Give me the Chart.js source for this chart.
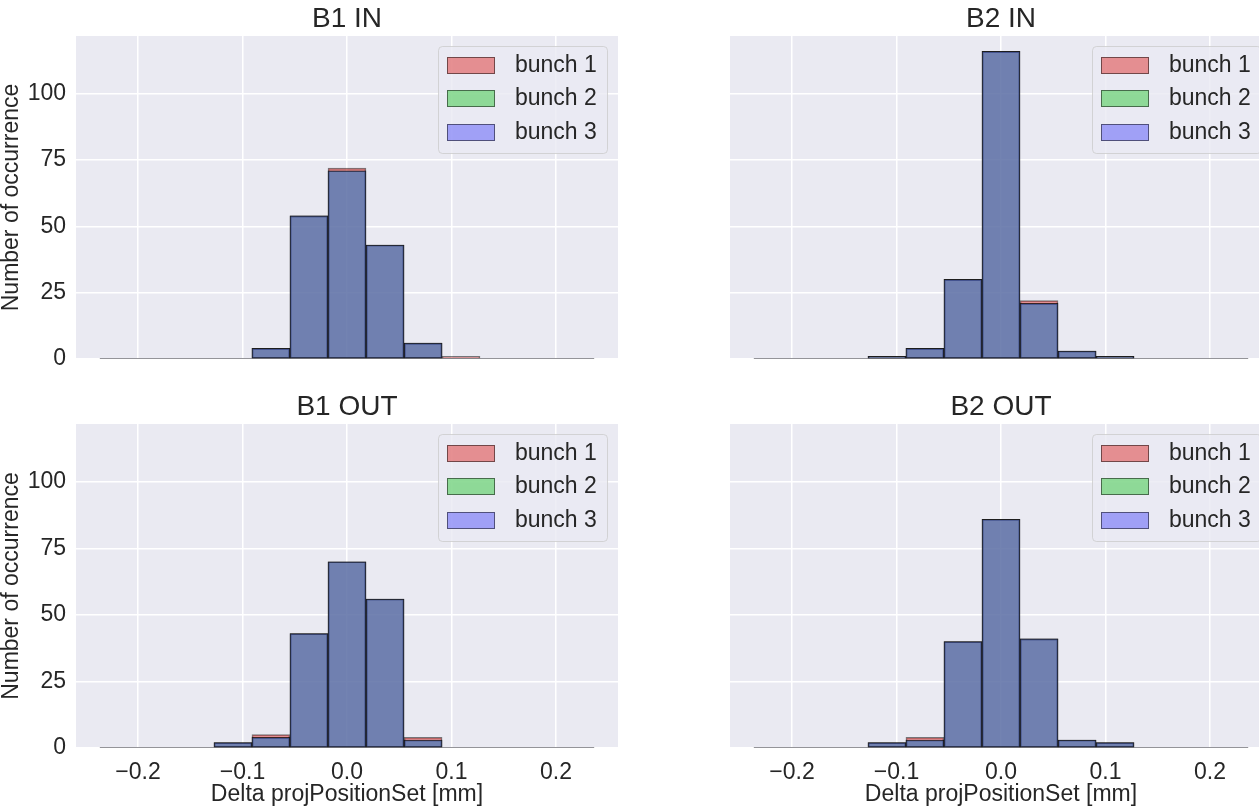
<!DOCTYPE html>
<html>
<head>
<meta charset="utf-8">
<script src="https://cdn.jsdelivr.net/npm/chart.js@4.4.1/dist/chart.umd.min.js"></script>
<style>
  html, body { margin: 0; padding: 0; background: #fff; overflow: hidden; }
  canvas { position: absolute; }
</style>
</head>
<body>
<canvas id="b1in" width="640" height="384" style="left:0;top:0"></canvas>
<canvas id="b2in" width="640" height="384" style="left:654px;top:0"></canvas>
<canvas id="b1out" width="640" height="421" style="left:0;top:388px"></canvas>
<canvas id="b2out" width="640" height="421" style="left:654px;top:388px"></canvas>
<script>
// histogram bins (centres) and axis ticks
const binCenters = [-0.2183, -0.1819, -0.1455, -0.1091, -0.0728, -0.0364, 0, 0.0364, 0.0728, 0.1091, 0.1455, 0.1819, 0.2183];
const binWidth = 0.0364;
const xTicks = [-0.2, -0.1, 0, 0.1, 0.2];
const yTicks = [0, 25, 50, 75, 100];
const bunchLabels = ['bunch 1', 'bunch 2', 'bunch 3'];

// counts per bin, one array per bunch
const b1In1 = [0, 0, 0, 0, 4, 54, 72, 43, 6, 1, 0, 0, 0];
const b1In2 = [0, 0, 0, 0, 4, 54, 71, 43, 6, 0, 0, 0, 0];
const b1In3 = [0, 0, 0, 0, 4, 54, 71, 43, 6, 0, 0, 0, 0];

const b2In1 = [0, 0, 0, 1, 4, 30, 116, 22, 3, 1, 0, 0, 0];
const b2In2 = [0, 0, 0, 1, 4, 30, 116, 21, 3, 1, 0, 0, 0];
const b2In3 = [0, 0, 0, 1, 4, 30, 116, 21, 3, 1, 0, 0, 0];

const b1Out1 = [0, 0, 0, 2, 5, 43, 70, 56, 4, 0, 0, 0, 0];
const b1Out2 = [0, 0, 0, 2, 4, 43, 70, 56, 3, 0, 0, 0, 0];
const b1Out3 = [0, 0, 0, 2, 4, 43, 70, 56, 3, 0, 0, 0, 0];

const b2Out1 = [0, 0, 0, 2, 4, 40, 86, 41, 3, 2, 0, 0, 0];
const b2Out2 = [0, 0, 0, 2, 3, 40, 86, 41, 3, 2, 0, 0, 0];
const b2Out3 = [0, 0, 0, 2, 3, 40, 86, 41, 3, 2, 0, 0, 0];

const bunchColors = ['rgba(222,50,48,0.5)', 'rgba(50,200,60,0.5)', 'rgba(85,85,250,0.5)'];
const edgeColor = 'rgba(0,0,0,0.5)';
const textColor = '#262626';

Chart.defaults.font.family = "Arial, 'Liberation Sans', sans-serif";
Chart.defaults.color = textColor;

// grey panel background
const panelBg = {
  id: 'panelBg',
  beforeDraw(chart) {
    const {ctx, chartArea: a} = chart;
    ctx.save();
    ctx.fillStyle = '#eaeaf2';
    ctx.fillRect(a.left, a.top, a.right - a.left, a.bottom - a.top);
    ctx.restore();
  }
};

// legend box in the upper right corner of the panel
const boxLegend = {
  id: 'boxLegend',
  afterDatasetsDraw(chart) {
    const {ctx, chartArea: a} = chart;
    const items = chart.data.datasets.filter(d => d.type === 'bar');
    const w = 169, h = 107;
    const x0 = Math.round(a.right - 11 - w), y0 = Math.round(a.top + 10);
    ctx.save();
    ctx.beginPath();
    ctx.roundRect(x0 + 0.5, y0 + 0.5, w, h, 4);
    ctx.fillStyle = 'rgba(234,234,242,0.8)';
    ctx.fill();
    ctx.strokeStyle = 'rgba(204,204,204,0.8)';
    ctx.lineWidth = 1;
    ctx.stroke();
    ctx.font = "23px Arial, 'Liberation Sans', sans-serif";
    ctx.textBaseline = 'middle';
    items.forEach((d, i) => {
      const cy = Math.round(y0 + 19 + i * 33.3);
      ctx.fillStyle = d.backgroundColor;
      ctx.fillRect(x0 + 9, cy - 8, 48, 17);
      ctx.strokeStyle = d.borderColor;
      ctx.strokeRect(x0 + 9.5, cy - 7.5, 47, 16);
      ctx.fillStyle = textColor;
      ctx.fillText(d.label, x0 + 77, cy + 1);
    });
    ctx.restore();
  }
};

function makePanel(id, title, series, showX, showY) {
  const datasets = series.map((vals, i) => ({
    type: 'bar',
    label: bunchLabels[i],
    data: vals.map((v, j) => ({x: binCenters[j], y: v})),
    backgroundColor: bunchColors[i],
    borderColor: edgeColor,
    borderWidth: 1,
    borderSkipped: false,
    grouped: false,
    barPercentage: 1,
    categoryPercentage: 1,
    order: series.length - i
  }));
  // empty bins still leave their edge along zero
  datasets.push({
    type: 'line',
    label: 'base',
    data: [
      {x: binCenters[0] - binWidth / 2, y: 0},
      {x: binCenters[binCenters.length - 1] + binWidth / 2, y: 0}
    ],
    borderColor: 'rgba(60,60,70,0.55)',
    borderWidth: 2,
    pointRadius: 0,
    order: -1
  });

  return new Chart(document.getElementById(id), {
    data: {datasets: datasets},
    options: {
      responsive: false,
      animation: false,
      devicePixelRatio: 1,
      layout: {padding: {left: 0, right: 22, top: 0, bottom: 0}},
      plugins: {
        legend: {display: false},
        tooltip: {enabled: false},
        title: {
          display: true,
          text: title,
          fullSize: false,
          color: textColor,
          font: {size: 28, weight: 'normal', lineHeight: 1},
          padding: {top: 5, bottom: 3}
        }
      },
      scales: {
        x: {
          type: 'linear',
          min: -0.2593,
          max: 0.2593,
          offset: false,
          afterBuildTicks: s => { s.ticks = xTicks.map(v => ({value: v})); },
          afterFit: s => { s.height = showX ? 61 : 25; },
          grid: {color: '#ffffff', lineWidth: 1.5, drawTicks: false, offset: false},
          border: {display: false},
          ticks: {
            display: showX,
            padding: 11,
            font: {size: 23},
            color: textColor,
            maxRotation: 0,
            callback: v => v.toFixed(1).replace('-', '\u2212')
          },
          title: {
            display: showX,
            text: 'Delta projPositionSet [mm]',
            color: textColor,
            font: {size: 23, lineHeight: 1},
            padding: {top: 0, bottom: 3}
          }
        },
        y: {
          type: 'linear',
          min: 0,
          max: 121.8,
          afterBuildTicks: s => { s.ticks = yTicks.map(v => ({value: v})); },
          afterFit: s => { s.width = 76; },
          grid: {color: '#ffffff', lineWidth: 1.5, drawTicks: false},
          border: {display: false},
          ticks: {display: showY, padding: 10, font: {size: 23}, color: textColor},
          title: {
            display: showY,
            text: 'Number of occurrence',
            color: textColor,
            font: {size: 23, lineHeight: 1},
            padding: {top: 0, bottom: 0}
          }
        }
      }
    },
    plugins: [panelBg, boxLegend]
  });
}

makePanel('b1in', 'B1 IN', [b1In1, b1In2, b1In3], false, true);
makePanel('b2in', 'B2 IN', [b2In1, b2In2, b2In3], false, false);
makePanel('b1out', 'B1 OUT', [b1Out1, b1Out2, b1Out3], true, true);
makePanel('b2out', 'B2 OUT', [b2Out1, b2Out2, b2Out3], true, false);
</script>
</body>
</html>
